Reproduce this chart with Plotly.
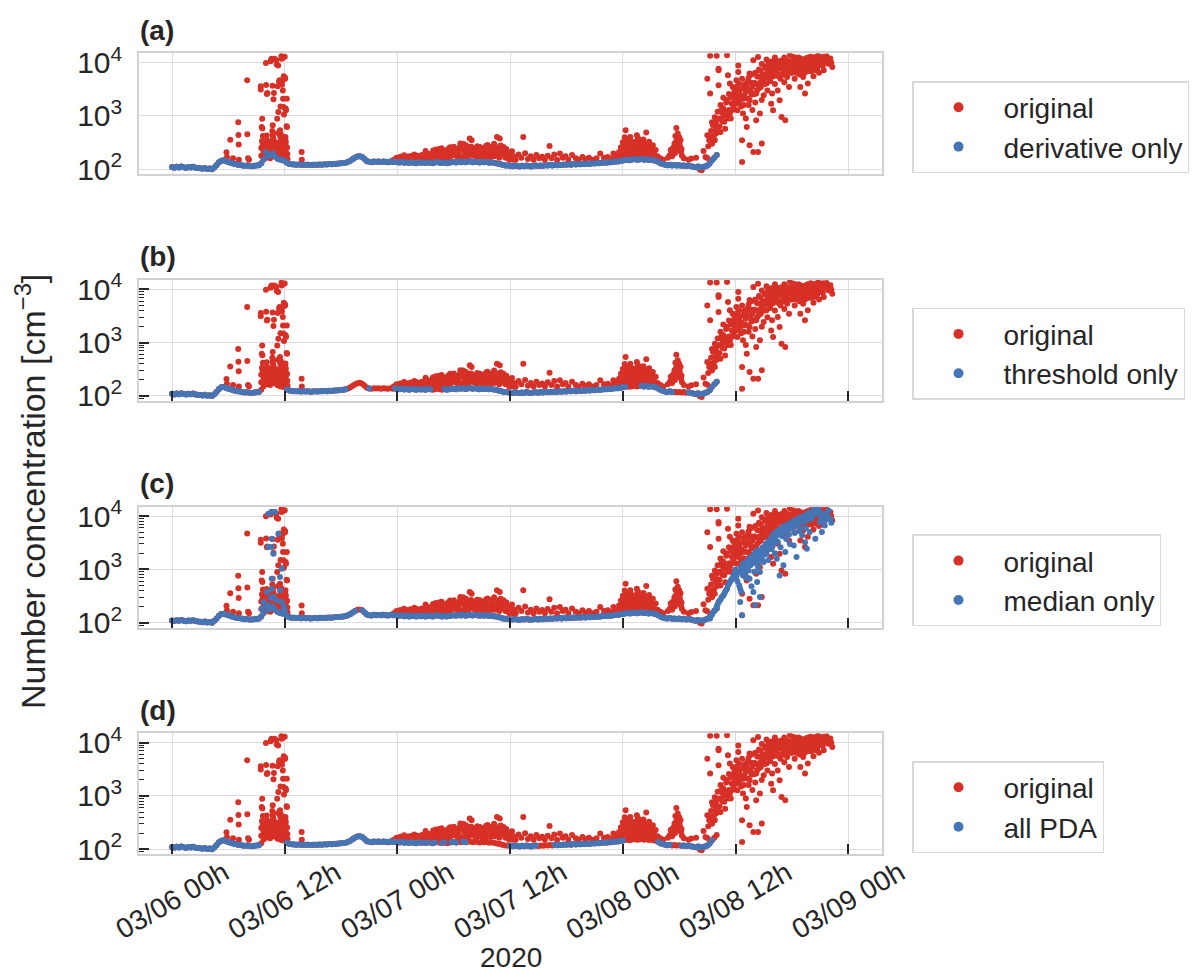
import numpy as np
import pandas as pd
import plotly.graph_objects as go

# ---------------- data ----------------
T0 = pd.Timestamp("2020-03-06 00:00")
SAMPLE_MIN = 15  # baseline sampling interval (minutes)

# baseline number concentration [cm^-3], one value every 15 min from 03/06 00h
base_vals = [
    110, 107, 111, 108, 112, 109, 106, 110, 108, 111, 107, 105,
    104, 102, 105, 101, 103, 100, 108, 120, 135, 145, 147, 142,
    137, 133, 128, 125, 122, 121, 118, 116, 117, 115, 114, 116,
    117, 119, 130, 152, 208, 175, 186, 198, 172, 158, 152, 148,
    145, 132, 126, 124, 123, 122, 123, 121, 122, 121, 122, 120,
    121, 122, 121, 123, 122, 124, 123, 125, 124, 126, 127, 128,
    129, 131, 133, 138, 145, 155, 166, 174, 176, 170, 155, 142,
    138, 136, 140, 138, 139, 137, 140, 138, 136, 139, 137, 138,
    136, 134, 138, 132, 135, 131, 136, 133, 130, 135, 132, 134,
    131, 136, 133, 130, 134, 138, 133, 131, 135, 130, 133, 136,
    137, 134, 139, 136, 140, 135, 138, 141, 136, 139, 137, 134,
    138, 135, 137, 133, 136, 132, 130, 127, 124, 120, 118, 117,
    116, 114, 117, 115, 113, 116, 114, 118, 115, 113, 116, 117,
    115, 118, 116, 119, 117, 120, 118, 121, 119, 122, 120, 123,
    121, 124, 122, 125, 123, 126, 124, 127, 125, 128, 126, 129,
    128, 131, 129, 132, 134, 133, 136, 135, 138, 140, 139, 143,
    146, 149, 151, 148, 152, 155, 150, 153, 156, 151, 154, 149,
    152, 148, 145, 138, 130, 125, 121, 119, 122, 118, 120, 117,
    119, 116, 118, 115, 117, 114, 111, 109, 112, 108, 110, 113,
    118, 128, 148, 165, 185,
]

# extra (contaminated) points of the original series: hours since 03/06 00h, value
early_h = [5.8, 5.85, 6.2, 6.5, 7.05, 7.07, 7.1, 7.12, 8.0, 8.02, 8.1, 8.2, 13.8, 13.82]
early_v = [208, 170, 356, 160, 760, 440, 290, 150, 4700, 455, 160, 150, 210, 150]

spike_h = [9.45, 9.45, 9.5, 9.55, 9.6, 9.62, 9.65, 9.7, 9.72, 9.75, 10.0, 10.02, 10.05, 10.08,
           10.1, 10.15, 10.2, 10.26, 10.3, 10.35, 10.4, 10.45, 10.5, 10.55, 10.6, 10.65, 10.7,
           10.72, 10.72, 10.75, 10.78, 10.8, 10.85, 10.9, 10.95, 11.0, 11.05, 11.1, 11.15, 11.2,
           11.25, 11.3, 11.32, 11.4, 11.45, 11.5, 11.52, 11.55, 11.6, 11.65, 11.68, 11.7, 11.75,
           11.78, 11.8, 11.82, 11.85, 11.87, 11.9, 11.92, 11.95, 12.0, 12.02, 12.05, 12.08, 12.1,
           12.12, 12.14, 12.18, 12.2, 12.22, 12.25, 12.28, 12.3,
           9.5, 9.58, 9.68, 9.8, 9.9, 10.12, 10.18, 10.32, 10.42, 10.58, 10.68, 10.82, 10.88,
           10.98, 11.08, 11.18, 11.28, 11.35, 11.42, 11.48, 11.58, 11.62, 11.72, 11.88, 11.98,
           12.05, 12.15, 12.25]
spike_v = [3600, 3150, 250, 620, 890, 580, 300, 245, 180, 210, 9900, 3800, 300, 430,
           2600, 2700, 166, 190, 250, 210, 245, 160, 10700, 11200, 11900, 300, 3700,
           670, 450, 405, 310, 2060, 2700, 11900, 225, 260, 190, 11200, 9300, 890,
           3600, 8900, 1190, 4400, 4700, 540, 410, 1500, 450, 13400, 11900, 3860, 350,
           4680, 3020, 2110, 12600, 1480, 5600, 1070, 300, 12900, 4950, 5200, 405, 1380,
           325, 1280, 245, 640, 2110, 620, 193, 155,
           180, 340, 420, 160, 230, 350, 280, 170, 330, 220, 520, 360, 240,
           180, 310, 220, 480, 260, 190, 330, 270, 180, 230, 270, 200,
           360, 175, 260]

noise_h = [23.6, 23.9, 24.1, 24.3, 24.5, 24.7, 24.8, 25.0, 25.2, 25.4, 25.6, 25.8, 26.0, 26.2,
           26.4, 26.6, 26.8, 27.0, 27.1, 27.3, 27.5,
           27.7, 27.9, 28.1, 28.2, 28.4, 28.5, 28.7, 28.8, 29.0, 29.1, 29.3, 29.5, 29.6, 29.8,
           29.9, 30.0, 30.1, 30.3, 30.4, 30.5, 30.7, 30.8, 30.9, 31.0, 31.1, 31.3, 31.4, 31.5,
           31.7, 31.8, 31.9, 32.0,
           32.2, 32.3, 32.5, 32.6, 32.8, 32.9, 33.0, 33.2, 33.3, 33.5, 33.6, 33.8, 33.9, 34.0,
           34.2, 34.3, 34.5, 34.6, 34.7, 34.8, 34.9, 35.0, 35.1, 35.3, 35.4, 35.6, 35.8, 36.0,
           36.2, 36.4,
           36.6, 36.9, 37.2, 37.4, 37.6, 37.9, 38.2, 38.5, 38.8, 39.1, 39.4, 39.7, 40.0, 40.2,
           40.4, 40.7, 41.0, 41.3, 41.6, 41.9, 42.2, 42.6, 43.0, 43.3, 43.7, 44.0, 44.4, 44.8,
           45.2, 45.6, 46.0, 46.4, 46.8, 47.0, 47.3,
           47.6, 47.8, 48.0, 48.1, 48.2, 48.3, 48.4, 48.5, 48.6, 48.7, 48.8, 48.9, 49.0, 49.1,
           49.2, 49.3, 49.4, 49.5, 49.6, 49.7, 49.8, 49.9, 50.0, 50.1, 50.2, 50.3, 50.4, 50.5,
           50.6, 50.7, 50.8, 50.9, 51.0, 51.2, 51.3, 51.5, 51.7, 52.0, 52.3,
           52.8, 53.0, 53.1, 53.2, 53.3, 53.4, 53.5, 53.6, 53.7, 53.8, 53.9, 54.0, 54.1, 54.15,
           54.2, 54.3, 54.5,
           55.0, 55.3, 55.8, 56.2, 56.4, 56.6, 56.8, 57.0,
           24.2, 24.4, 24.6, 24.9, 25.1, 25.3, 25.5, 25.7, 25.9, 26.1, 26.3, 26.5, 26.7, 26.9,
           27.2, 27.4, 27.6, 27.8, 28.0, 28.3, 28.6, 28.9, 29.2, 29.4, 29.7, 30.2, 30.6, 31.2,
           31.6, 32.1, 32.4, 32.7, 33.1, 33.4, 33.7, 34.1, 34.4, 35.2, 35.5, 35.7, 35.9, 36.1,
           36.3, 36.5,
           28.15, 28.45, 28.95, 29.35, 29.85, 30.25, 30.65, 31.15, 31.55, 31.85, 32.15, 32.45,
           32.85, 33.15, 33.45, 33.85, 34.05, 34.35, 34.65, 34.85, 35.05, 35.45,
           47.55, 47.9, 48.05, 48.15, 48.35, 48.45, 48.55, 48.65, 48.75, 48.85, 48.95, 49.05,
           49.15, 49.25, 49.35, 49.45, 49.55, 49.65, 49.75, 49.85, 49.95, 50.05, 50.15, 50.25,
           50.35, 50.45, 50.55, 50.65, 50.75, 50.85, 50.95, 51.1, 51.4, 53.25, 53.45, 53.55,
           53.65, 53.75, 53.85, 53.95, 54.05, 54.25]
noise_v = [150, 165, 158, 172, 160, 183, 150, 168, 155, 178, 162, 190, 158, 172,
           165, 185, 150, 219, 175, 160, 190,
           205, 170, 235, 185, 211, 160, 248, 190, 175, 222, 200, 165, 260, 251,
           185, 263, 210, 175, 230, 195, 303, 240, 170, 300, 215, 281, 190, 255,
           376, 230, 350, 200,
           245, 180, 270, 210, 262, 190, 230, 175, 250, 205, 285, 220, 170, 240,
           200, 300, 230, 404, 260, 190, 376, 280, 210, 262, 180, 240, 200, 165,
           218, 175,
           150, 190, 165, 404, 200, 155, 175, 150, 185, 160, 172, 150, 180, 274,
           160, 190, 150, 197, 165, 175, 150, 185, 160, 150, 170, 155, 165, 150,
           160, 197, 165, 170, 158, 197, 175,
           210, 260, 320, 190, 400, 537, 280, 230, 350, 180, 404, 260, 300, 210,
           240, 170, 330, 435, 390, 250, 282, 200, 310, 230, 360, 190, 270, 488,
           300, 220, 330, 180, 250, 282, 200, 230, 175, 160, 150,
           165, 183, 230, 200, 245, 211, 300, 420, 596, 380, 350, 404, 262, 355,
           210, 180, 160,
           150, 159, 165, 99, 96, 221, 170, 163,
           150, 165, 145, 175, 150, 162, 145, 170, 150, 180, 148, 160, 170, 155,
           195, 150, 165, 225, 150, 195, 175, 215, 155, 240, 175, 240, 160, 230,
           175, 210, 165, 230, 195, 165, 210, 180, 215, 235, 165, 215, 150, 190,
           150, 160,
           160, 240, 155, 180, 205, 190, 260, 165, 210, 265, 180, 220,
           175, 215, 275, 190, 265, 175, 230, 165, 235, 205,
           165, 185, 240, 300, 175, 340, 200, 270, 220, 180, 330, 170,
           280, 200, 250, 185, 300, 210, 345, 170, 250, 190, 280, 215,
           175, 300, 235, 180, 260, 200, 165, 210, 170, 175, 260, 200,
           330, 250, 470, 230, 300, 240]

rise_h = [57.0, 57.0, 57.1, 57.2, 57.3, 57.3, 57.3, 57.4, 57.5, 57.5, 57.6, 57.7, 57.8, 57.9,
          58.0, 58.0, 58.1, 58.2, 58.2, 58.2, 58.3, 58.4, 58.4, 58.5, 58.6, 58.7, 58.8, 58.9,
          58.9, 59.0, 59.1, 59.2, 59.3, 59.4, 59.5, 59.5, 59.6, 59.8, 59.9, 60.0, 60.1, 60.2,
          60.3, 60.3, 60.4, 60.5, 60.6, 60.7, 60.7, 60.8, 60.9, 61.0, 61.1, 61.2, 61.3, 61.4,
          61.5, 61.5, 61.5, 61.6, 61.7, 61.8, 61.9, 61.9, 62.0, 62.1, 62.2, 62.2, 62.3, 62.4,
          62.4, 62.5, 62.6, 62.6, 62.7, 62.8, 62.8, 62.9, 63.0, 63.1, 63.2, 63.3, 63.4, 63.5,
          63.6, 63.7, 63.8, 63.9, 64.0, 64.0, 64.1, 64.2, 64.3, 64.4, 64.5, 64.6, 64.7, 64.8,
          64.9, 65.0, 65.1, 65.2, 65.3, 65.3, 65.4, 65.5, 65.6, 65.7, 65.8, 65.9, 66.0, 66.1,
          66.2, 66.3, 66.4, 66.5, 66.6, 66.7, 66.8, 66.9, 67.0, 67.1, 67.2, 67.3, 67.4, 67.5,
          67.6, 67.7, 67.8, 67.9, 68.0, 68.1, 68.2, 68.3, 68.4, 68.5, 68.6, 68.7, 68.8, 68.9,
          69.0, 69.2, 69.3, 69.4, 69.5, 69.7, 69.9, 70.1, 70.2, 70.3,
          57.6, 57.8, 57.9, 58.0, 58.1, 58.3, 58.5, 58.6, 58.7, 58.8, 59.0, 59.1, 59.2, 59.3,
          59.4, 59.6, 59.7, 59.7, 59.8, 59.9, 60.0, 60.1, 60.2, 60.3, 60.4, 60.5, 60.6, 60.7,
          60.8, 60.9, 61.0, 61.1, 61.2, 61.3, 61.4, 61.6, 61.7, 61.8, 62.0, 62.1, 62.2, 62.3,
          62.5, 62.6, 62.7, 62.8, 62.9, 63.0, 63.1, 63.2, 63.3, 63.4, 63.5, 63.6, 63.7, 63.8,
          63.9, 64.0, 64.1, 64.2, 64.3, 64.4, 64.5, 64.6, 64.7, 64.8, 64.9, 65.0, 65.1, 65.2,
          65.4, 65.5, 65.6, 65.7, 65.9, 66.0, 66.1, 66.2, 66.3, 66.4, 66.5, 66.7, 66.8, 66.9,
          67.0, 67.1, 67.2, 67.3, 67.4, 67.5, 67.6, 67.7, 67.8, 67.9, 68.0, 68.1, 68.2, 68.3,
          68.4, 68.5, 68.6, 68.7, 68.8, 68.9, 69.0, 69.1, 69.3, 69.6, 69.8, 70.0]
rise_v = [5000, 435, 270, 350, 2630, 13500, 404, 520, 300, 760, 670, 420, 950, 560,
          830, 13500, 1200, 7740, 7240, 3770, 640, 500, 1600, 900, 1150, 2200, 780, 1030,
          575, 1800, 13800, 5800, 1300, 4080, 2400, 900, 1700, 1480, 3100, 2000, 4680, 1280,
          8910, 6700, 2600, 1970, 1500, 350, 137, 1110, 3400, 2200, 900, 620, 4500, 1600,
          6310, 1970, 282, 3000, 2500, 1300, 11100, 211, 4200, 1800, 2630, 830, 5500, 12800,
          211, 3300, 5370, 1110, 7000, 303, 2000, 4500, 2440, 8500, 6000, 4080, 3000, 10000,
          5000, 7190, 1700, 2630, 1280, 9000, 6200, 4000, 11100, 7500, 3020, 5500, 1970, 8800,
          955, 8320, 6000, 4300, 830, 10500, 7000, 5370, 9500, 3500, 13800, 6500, 8000, 11000,
          8320, 5000, 9800, 11100, 7200, 12500, 6000, 3500, 9000, 10500, 5370, 7800, 2630, 12000,
          11100, 4080, 9500, 8320, 13000, 7000, 10200, 5600, 11800, 12800, 7190, 9000, 13500, 6500,
          10800, 12500, 8800, 7190, 11100, 13200, 9600, 12000, 10000, 8320,
          400, 350, 700, 480, 600, 900, 1300, 800, 1400, 1100, 1200, 2000, 900, 2600,
          1100, 2200, 1300, 3500, 2600, 1800, 3000, 2300, 3600, 1700, 4000, 3100, 2400, 5000,
          2100, 1600, 4000, 2800, 3500, 2100, 5200, 4200, 6000, 3500, 2600, 6500, 4000, 3000,
          7500, 4200, 3500, 9500, 6000, 5000, 4000, 8000, 11500, 6500, 5500, 8500, 4500, 10500,
          6500, 5500, 8000, 12500, 7000, 9500, 6000, 10500, 8000, 5000, 11000, 7000, 9500, 12500,
          8500, 11000, 6500, 8500, 10500, 6500, 9000, 12800, 7500, 6500, 9000, 8000, 10500, 12000,
          7000, 8500, 11500, 9500, 6500, 9000, 8000, 12500, 7000, 10500, 9000, 12000, 8000, 9500,
          7500, 10000, 11500, 8000, 10500, 12000, 9000, 11500, 13000, 10500, 12000, 11000]

# points kept by the median filter that are not part of the baseline
med_spike_h = [9.55, 9.73, 10.1, 10.26, 10.26, 10.26, 10.5, 10.61, 10.61, 10.61, 10.61, 10.61,
               10.8, 10.8, 10.97, 11.14, 11.32, 11.5, 11.5, 11.68, 11.68, 11.85, 11.9, 12.0]
med_spike_v = [183, 243, 376, 211, 2620, 11100, 290, 434, 670, 2620, 3770, 11900,
               303, 1970, 11900, 262, 4680, 404, 716, 243, 1030, 158, 200, 170]
med_rise_h = [57.3, 57.5, 57.8, 58.0, 58.2, 58.4, 58.5, 58.7, 58.9, 59.1, 59.2, 59.4, 59.6, 59.8,
              60.0, 60.2, 60.4, 60.5, 60.5, 60.6, 60.7, 60.8, 60.9, 61.0, 61.2, 61.3, 61.5, 61.6,
              61.7, 61.9, 62.0, 62.1, 62.2, 62.3, 62.4, 62.6, 62.6, 62.8, 63.0, 63.1, 63.3, 63.4,
              63.5, 63.7, 63.8, 64.0, 64.1, 64.2, 64.4, 64.5, 64.7, 64.8, 65.0, 65.1, 65.3, 65.4,
              65.5, 65.7, 65.8, 66.0, 66.2, 66.3, 66.5, 66.6, 66.8, 66.9, 67.1, 67.2, 67.4, 67.5,
              67.6, 67.7, 67.9, 67.9, 68.1, 68.3, 68.5, 68.6, 68.8, 69.0, 69.2, 69.3, 69.5, 69.7,
              69.9, 70.1, 70.2,
              58.1, 58.3, 58.6, 58.8, 59.0, 59.3, 59.5, 59.7, 59.9, 60.0, 60.1, 60.3, 60.6, 60.7,
              60.8, 61.0, 61.1, 61.2, 61.4, 61.5, 61.7, 61.8, 62.0, 62.1, 62.3, 62.4, 62.5, 62.7,
              62.9, 63.0, 63.2, 63.3, 63.5, 63.6, 63.8, 63.9, 64.0, 64.2, 64.3, 64.5, 64.6, 64.8,
              64.9, 65.1, 65.2, 65.4, 65.6, 65.8, 65.9, 66.1, 66.2, 66.4, 66.6, 66.8, 66.9, 67.1,
              67.3, 67.4, 67.6, 67.8, 68.0, 68.2, 68.4, 68.7, 68.9, 69.1, 69.4, 69.6, 69.8]
med_rise_v = [119, 140, 170, 200, 243, 270, 300, 325, 380, 435, 500, 578, 650, 771,
              700, 600, 500, 243, 435, 380, 137, 771, 900, 800, 1020, 700, 670, 1200,
              480, 376, 900, 211, 1300, 578, 1100, 303, 890, 1600, 1370, 1900, 1970, 2300,
              1500, 2820, 2400, 3770, 3000, 2000, 1590, 3300, 771, 2600, 4200, 1190, 2110, 3700,
              5010, 4500, 3000, 5800, 2820, 4800, 1700, 6500, 5200, 5800, 4390, 7710, 3240, 6000,
              2450, 8500, 10300, 5010, 9000, 12800, 3770, 11000, 13800, 7710, 5010, 10300, 6690, 9500,
              12800, 8910, 7500,
              220, 260, 310, 350, 410, 540, 620, 700, 850, 1000, 750, 900, 1100, 850,
              1300, 1150, 700, 1400, 950, 1600, 1300, 1800, 1500, 2100, 1700, 2300, 1400, 2000,
              2600, 2200, 3000, 2600, 3400, 2900, 3800, 3300, 4500, 3900, 5000, 4400, 5500, 4800,
              6000, 5200, 6500, 5700, 7000, 6200, 7500, 6800, 8200, 7300, 8800, 7800, 9500, 8500,
              10000, 9000, 11000, 9800, 12000, 10500, 13000, 11500, 12500, 9000, 11000, 8500, 10000]

# time windows (hours since 03/06 00h) removed from the baseline by each filter
gaps_a = []
gaps_b = [(9.45, 12.2), (18.6, 21.0), (21.2, 23.6), (27.6, 28.9), (48.3, 49.8), (53.4, 54.8)]
gaps_c = [(19.6, 20.1)]
gaps_d = [(9.45, 12.2), (27.4, 27.7), (28.2, 28.6), (29.2, 29.6), (30.3, 31.0), (31.45, 36.0),
          (38.8, 40.6), (48.05, 51.6), (53.2, 54.1), (57.7, 58.1)]

filter_names = ["derivative only", "threshold only", "median only", "all PDA"]
panel_tags = ["(a)", "(b)", "(c)", "(d)"]

xtick_vals = ["2020-03-06 00:00", "2020-03-06 12:00", "2020-03-07 00:00", "2020-03-07 12:00",
              "2020-03-08 00:00", "2020-03-08 12:00", "2020-03-09 00:00"]
xtick_text = ["03/06 00h", "03/06 12h", "03/07 00h", "03/07 12h",
              "03/08 00h", "03/08 12h", "03/09 00h"]

# ---------------- helpers ----------------
def to_time(h):
    return T0 + pd.to_timedelta(np.asarray(h, dtype=float), unit="h")

base_h = np.arange(len(base_vals)) * SAMPLE_MIN / 60.0
base_v = np.asarray(base_vals, dtype=float)

def keep(h, gaps):
    m = np.ones(len(h), dtype=bool)
    for a, b in gaps:
        m &= ~((h > a) & (h < b))
    return m

orig_h = np.concatenate([base_h, early_h, spike_h, noise_h, rise_h])
orig_v = np.concatenate([base_v, early_v, spike_v, noise_v, rise_v])

blue_sets = []
for gaps, extra_h, extra_v in [
    (gaps_a, [], []),
    (gaps_b, [], []),
    (gaps_c, med_spike_h + med_rise_h, med_spike_v + med_rise_v),
    (gaps_d, [], []),
]:
    m = keep(base_h, gaps)
    bh = np.concatenate([base_h[m], np.asarray(extra_h, dtype=float)])
    bv = np.concatenate([base_v[m], np.asarray(extra_v, dtype=float)])
    blue_sets.append((bh, bv))

# ---------------- style ----------------
RED = "#d73027"
BLUE = "#4575b4"
TXT = "#262626"
GRID = "#dddddd"
FRAME = "#d2d2d2"
FONT = "Liberation Sans, Arial, sans-serif"

W, H = 1195, 975
L, R = 139, 313
panel_top = [53.3, 280.0, 506.7, 733.3]
panel_h = 121.0
step = 226.7

fig = go.Figure()

for i in range(4):
    xa = "x" if i == 0 else f"x{i+1}"
    ya = "y" if i == 0 else f"y{i+1}"
    lg = "legend" if i == 0 else f"legend{i+1}"
    fig.add_trace(go.Scatter(
        x=to_time(orig_h), y=orig_v, mode="markers", xaxis=xa, yaxis=ya,
        marker=dict(color=RED, size=6, line=dict(width=0)),
        showlegend=False, hoverinfo="skip"))
    bh, bv = blue_sets[i]
    fig.add_trace(go.Scatter(
        x=to_time(bh), y=bv, mode="markers", xaxis=xa, yaxis=ya,
        marker=dict(color=BLUE, size=6, line=dict(width=0)),
        showlegend=False, hoverinfo="skip"))
    # legend entries
    for name, col in [("original", RED), (filter_names[i], BLUE)]:
        fig.add_trace(go.Scatter(
            x=[None], y=[None], mode="markers", xaxis=xa, yaxis=ya,
            marker=dict(color=col, size=10), name=name, legend=lg))

layout = dict(
    width=W, height=H,
    margin=dict(l=L, r=R, t=0, b=0, autoexpand=False),
    paper_bgcolor="white", plot_bgcolor="white",
    font=dict(family=FONT, color=TXT, size=24),
    showlegend=True,
)

xrange = ["2020-03-05 20:29", "2020-03-09 03:36"]
annotations = []
for i in range(4):
    top = panel_top[i]
    bot = top + panel_h
    dom = [1 - bot / H, 1 - top / H]
    sfx = "" if i == 0 else str(i + 1)
    ticked = i > 0
    layout["xaxis" + sfx] = dict(
        domain=[0, 1], anchor="y" + sfx, type="date", range=xrange,
        tickvals=xtick_vals, ticktext=xtick_text,
        showgrid=True, gridcolor=GRID, gridwidth=1.3,
        showline=True, linecolor=FRAME, linewidth=2, mirror=True,
        ticks="inside" if ticked else "", ticklen=10, tickwidth=1.5, tickcolor=TXT,
        showticklabels=False, zeroline=False, automargin=False,
    )
    ydict = dict(
        domain=dom, anchor="x" + sfx, type="log", range=[1.905, 4.177],
        dtick=1, exponentformat="power", showexponent="all",
        showgrid=True, gridcolor=GRID, gridwidth=1.3,
        showline=True, linecolor=FRAME, linewidth=2, mirror=True,
        ticks="inside" if ticked else "", ticklen=10, tickwidth=1.5, tickcolor=TXT,
        tickfont=dict(size=24, color=TXT), ticklabelstandoff=10,
        zeroline=False, automargin=False,
    )
    if ticked:
        ydict["minor"] = dict(ticks="inside", ticklen=5, tickwidth=1.2, tickcolor=TXT,
                              dtick="D1", showgrid=False)
    layout["yaxis" + sfx] = ydict

    lg = "legend" if i == 0 else f"legend{i+1}"
    layout[lg] = dict(
        x=(912 - L) / (W - L - R), xanchor="left",
        y=1 - (81 + step * i) / H, yanchor="top",
        bgcolor="white", bordercolor="#d9d9d9", borderwidth=1.5,
        font=dict(size=28, color=TXT, family=FONT), itemwidth=80,
    )
    annotations.append(dict(
        text=f"<b>{panel_tags[i]}</b>", xref="paper", yref="paper",
        x=-0.002, xanchor="left", y=1 - (30 + step * i) / H, yanchor="middle",
        showarrow=False, font=dict(size=28, color=TXT, family=FONT)))

# date tick labels of the bottom panel, centred on their ticks and slanted by 30 degrees
for val, txt in zip(xtick_vals, xtick_text):
    annotations.append(dict(
        text=txt, xref="x4", yref="paper", x=val, y=1 - 900.5 / H,
        xanchor="center", yanchor="middle", textangle=-30, showarrow=False,
        font=dict(size=28, color=TXT, family=FONT)))

annotations.append(dict(
    text="Number concentration [cm<sup>−3</sup>]", xref="paper", yref="paper",
    x=(31 - L) / (W - L - R), y=1 - 492 / H, xanchor="center", yanchor="middle",
    textangle=-90, showarrow=False, font=dict(size=34, color=TXT, family=FONT)))
annotations.append(dict(
    text="2020", xref="paper", yref="paper", x=0.5, y=0.0,
    xanchor="center", yanchor="bottom", showarrow=False,
    font=dict(size=28, color=TXT, family=FONT)))
layout["annotations"] = annotations

fig.update_layout(**layout)
fig.write_html("out.html")
